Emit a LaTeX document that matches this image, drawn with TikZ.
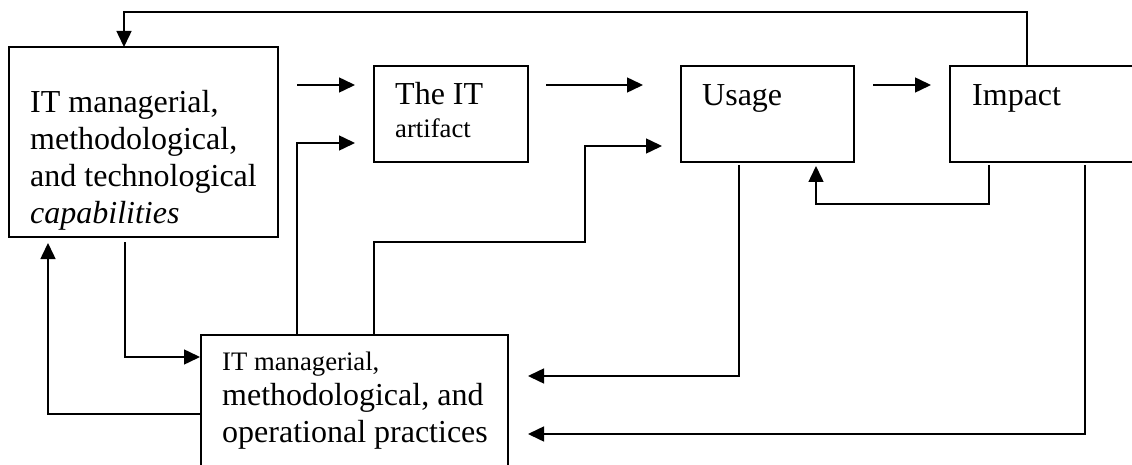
\documentclass[tikz,border=0pt]{standalone}
\usepackage{fontspec}
\setmainfont{Liberation Serif}
\usetikzlibrary{arrows.meta,calc}
\begin{document}
\begin{tikzpicture}[x=1pt,y=-1pt,
  box/.style={draw, line width=1.6pt, inner sep=0pt, outer sep=0pt, anchor=north west},
  big/.style={font=\fontsize{32}{36.8}\selectfont, inner sep=0pt, anchor=base west},
  small/.style={font=\fontsize{26.7}{30.7}\selectfont, inner sep=0pt, anchor=base west},
  link/.style={line width=1.5pt},
  arr/.style={link, -{Triangle[length=16pt,width=15pt]}}]
\useasboundingbox (0,0) rectangle (1132,465);
\begin{scope}
\clip (0,0) rectangle (1132,465);

% boxes
\node[box, minimum width=269pt, minimum height=190pt] (cap) at (9,47) {};
\node[box, minimum width=154pt, minimum height=96pt] (art) at (374,66) {};
\node[box, minimum width=173pt, minimum height=96pt] (use) at (681,66) {};
\node[box, minimum width=200pt, minimum height=96pt] (imp) at (950,66) {};
\node[box, minimum width=307pt, minimum height=150pt] (prac) at (201,335) {};

% box texts
\node[big] (capA) at (30,113) {IT managerial,};
\node[big] (capB) at (30,150) {methodological,};
\node[big] (capC) at (30,186) {and technological};
\node[big] (capD) at (30,223) {\itshape capabilities};
\node[big] (artA) at (395,105) {The IT};
\node[small] (artB) at (395,138) {artifact};
\node[big] (useA) at (702,106) {Usage};
\node[big] (impA) at (972,106) {Impact};
\node[small] (pracA) at (222,370) {IT managerial,};
\node[big] (pracB) at (222,405) {methodological, and};
\node[big] (pracC) at (222,442) {operational practices};

% forward chain
\draw[arr] ($(cap.north east)+(19,38)$) -- ($(art.north west)+(-19,19)$);
\draw[arr] ($(art.north east)+(18,19)$) -- ($(use.north west)+(-38,19)$);
\draw[arr] ($(use.north east)+(19,19)$) -- ($(imp.north west)+(-19,19)$);

% impact back to capabilities
\draw[arr] ($(imp.north west)+(77,0)$) -- ++(0,-54) -| ($(cap.north west)+(115,0)$);

% practices feeding artifact and usage
\draw[arr] ($(prac.north west)+(96,0)$) |- ($(art.north west)+(-19,77)$);
\draw[arr] ($(prac.north west)+(173,0)$) -- ++(0,-93) -| ++(211,-96)
  -- ($(use.north west)+(-19,80)$);

% impact back to usage
\draw[arr] ($(imp.south west)+(39,3)$) -- ++(0,39) -| ($(use.south west)+(135,4)$);

% usage and impact back to practices
\draw[arr] ($(use.south west)+(58,3)$) |- ($(prac.north east)+(20,41)$);
\draw[arr] ($(imp.south west)+(135,3)$) |- ($(prac.north east)+(20,99)$);

% capabilities and practices loop
\draw[arr] ($(prac.north west)+(0,79)$) -| ($(cap.south west)+(39,6)$);
\draw[arr] ($(cap.south west)+(116,5)$) |- ($(prac.north west)+(-1,22)$);
\end{scope}
\end{tikzpicture}
\end{document}
